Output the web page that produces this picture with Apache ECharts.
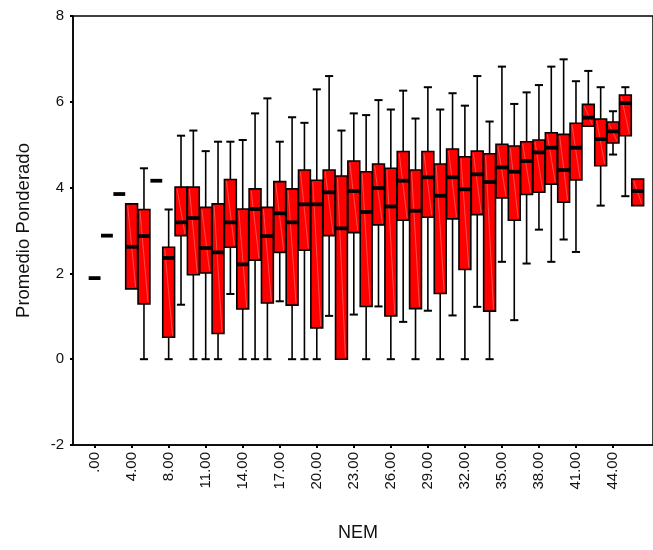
<!DOCTYPE html>
<html>
<head>
<meta charset="utf-8">
<script src="https://cdn.jsdelivr.net/npm/echarts@6/dist/echarts.min.js"></script>
<style>
  html, body { margin: 0; padding: 0; background: #fff; }
  #chart { width: 653px; height: 550px; }
</style>
</head>
<body>
<div id="chart"></div>
<script>
// NEM groups (x categories) and the five-number summary of "Promedio Ponderado" per group
const categories = ['.00', '2.00', '3.00', '4.00', '6.00', '7.00', '8.00', '9.00', '10.00', '11.00',
  '12.00', '13.00', '14.00', '15.00', '16.00', '17.00', '18.00', '19.00', '20.00', '21.00',
  '22.00', '23.00', '24.00', '25.00', '26.00', '27.00', '28.00', '29.00', '30.00', '31.00',
  '32.00', '33.00', '34.00', '35.00', '36.00', '37.00', '38.00', '39.00', '40.00', '41.00',
  '42.00', '43.00', '44.00', '45.00', '46.00'];

const lowerWhisker = [1.89, 2.88, 3.85, 1.64, 0, 4.16, 0, 1.27, 0, 0,
  0, 1.52, 0, 0, 0, 1.35, 0, 0, 0, 1.01,
  0, 1.04, 0, 1.23, 0, 0.87, 0, 1.13, 0, 1.02,
  0, 1.22, 0, 2.27, 0.91, 2.23, 3.02, 2.27, 2.79, 2.50,
  5.43, 3.58, 4.77, 3.80, 3.58];

const quartile1 = [1.89, 2.88, 3.85, 1.64, 1.29, 4.16, 0.51, 2.88, 1.97, 2.01,
  0.60, 2.61, 1.17, 2.31, 1.31, 2.49, 1.26, 2.54, 0.73, 2.88,
  0, 2.95, 1.23, 3.13, 1.01, 3.24, 1.18, 3.31, 1.53, 3.27,
  2.09, 3.37, 1.12, 3.76, 3.24, 3.84, 3.89, 4.08, 3.66, 4.18,
  5.43, 4.51, 5.04, 5.21, 3.58];

const medians = [1.89, 2.88, 3.85, 2.62, 2.87, 4.16, 2.36, 3.19, 3.29, 2.59,
  2.49, 3.19, 2.21, 3.50, 2.87, 3.40, 3.19, 3.61, 3.61, 3.89,
  3.05, 3.92, 3.43, 3.99, 3.56, 4.16, 3.46, 4.24, 3.81, 4.24,
  3.96, 4.31, 4.13, 4.47, 4.37, 4.62, 4.82, 4.93, 4.41, 4.93,
  5.63, 5.13, 5.31, 5.97, 3.92];

const quartile3 = [1.89, 2.88, 3.85, 3.62, 3.49, 4.16, 2.61, 4.01, 4.01, 3.54,
  3.62, 4.19, 3.50, 3.97, 3.54, 4.14, 3.97, 4.41, 4.17, 4.41,
  4.27, 4.62, 4.37, 4.55, 4.45, 4.84, 4.41, 4.84, 4.55, 4.90,
  4.72, 4.85, 4.79, 5.01, 4.97, 5.07, 5.11, 5.28, 5.24, 5.50,
  5.94, 5.60, 5.53, 6.16, 4.20];

const upperWhisker = [1.89, 2.88, 3.85, 3.62, 4.45, 4.16, 3.49, 5.21, 5.33, 4.85,
  5.07, 5.07, 5.11, 5.73, 6.08, 5.07, 5.64, 5.51, 6.29, 6.60,
  5.33, 5.73, 5.69, 6.04, 5.82, 6.26, 5.61, 6.34, 5.82, 6.20,
  5.91, 6.60, 5.54, 6.82, 5.95, 6.22, 6.39, 6.82, 6.99, 6.48,
  6.72, 6.34, 5.78, 6.34, 4.20];

// every third group carries a tick label
const labelledIndices = [0, 3, 6, 9, 12, 15, 18, 21, 24, 27, 30, 33, 36, 39, 42];

const yTicks = { min: -2, max: 8, interval: 2 };

const boxData = categories.map((c, i) =>
  [i, lowerWhisker[i], quartile1[i], medians[i], quartile3[i], upperWhisker[i]]);

const FONT = '"Liberation Sans", Arial, sans-serif';

function renderBox(params, api) {
  const i = api.value(0);
  const band = api.size([1, 0])[0];
  const half = band * 0.48;
  const capHalf = band * 0.33;
  const pLow = api.coord([i, api.value(1)]);
  const pQ1 = api.coord([i, api.value(2)]);
  const pMed = api.coord([i, api.value(3)]);
  const pQ3 = api.coord([i, api.value(4)]);
  const pHigh = api.coord([i, api.value(5)]);
  const x = pMed[0];
  const children = [];
  const lineStyle = { stroke: '#000', lineWidth: 1.6 };

  if (pHigh[1] < pQ3[1] - 0.5) {
    children.push({ type: 'line', shape: { x1: x, y1: pQ3[1], x2: x, y2: pHigh[1] }, style: lineStyle });
    children.push({ type: 'line', shape: { x1: x - capHalf, y1: pHigh[1], x2: x + capHalf, y2: pHigh[1] }, style: { stroke: '#000', lineWidth: 2 } });
  }
  if (pLow[1] > pQ1[1] + 0.5) {
    children.push({ type: 'line', shape: { x1: x, y1: pQ1[1], x2: x, y2: pLow[1] }, style: lineStyle });
    children.push({ type: 'line', shape: { x1: x - capHalf, y1: pLow[1], x2: x + capHalf, y2: pLow[1] }, style: { stroke: '#000', lineWidth: 2 } });
  }
  const h = pQ1[1] - pQ3[1];
  if (h > 0.5) {
    children.push({
      type: 'rect',
      shape: { x: x - half, y: pQ3[1], width: half * 2, height: h },
      style: { fill: '#ff0000', stroke: '#000', lineWidth: 1.6 }
    });
    // light diagonal stroke across the fill
    children.push({
      type: 'line',
      shape: { x1: x - half + 2, y1: pQ3[1] + 2, x2: x + half - 2, y2: pQ1[1] - 2 },
      style: { stroke: 'rgba(255,170,170,0.55)', lineWidth: 0.8 }
    });
  }
  children.push({
    type: 'line',
    shape: { x1: x - half, y1: pMed[1], x2: x + half, y2: pMed[1] },
    style: { stroke: '#000', lineWidth: 3.8 }
  });
  return { type: 'group', children: children };
}

const chart = echarts.init(document.getElementById('chart'), null, { renderer: 'canvas' });

chart.setOption({
  animation: false,
  backgroundColor: '#fff',
  grid: {
    left: 73, right: -3, top: 16, bottom: 105,
    show: true, borderColor: '#000', borderWidth: 1.5, backgroundColor: 'transparent'
  },
  xAxis: {
    type: 'value',
    min: -1.75,
    max: 45.24,
    name: 'NEM',
    nameLocation: 'middle',
    nameGap: 79,
    nameTextStyle: { fontFamily: FONT, fontSize: 18, color: '#111', padding: [0, 10, 0, 0] },
    axisLine: { show: true, onZero: false, lineStyle: { color: '#000', width: 1.5 } },
    axisTick: { show: true, customValues: labelledIndices, length: 3, lineStyle: { color: '#000', width: 2 } },
    axisLabel: {
      customValues: labelledIndices,
      rotate: 90,
      margin: 7,
      fontFamily: FONT,
      fontSize: 15,
      color: '#111',
      formatter: v => categories[Math.round(v)] || ''
    },
    splitLine: { show: false }
  },
  yAxis: {
    type: 'value',
    min: yTicks.min,
    max: yTicks.max,
    interval: yTicks.interval,
    name: 'Promedio Ponderado',
    nameLocation: 'middle',
    nameGap: 40,
    nameTextStyle: { fontFamily: FONT, fontSize: 18.5, color: '#111' },
    axisLine: { show: true, onZero: false, lineStyle: { color: '#000', width: 1.5 } },
    axisTick: { show: true, length: 3, lineStyle: { color: '#000', width: 2 } },
    axisLabel: { margin: 9, fontFamily: FONT, fontSize: 15, color: '#111' },
    splitLine: { show: false }
  },
  series: [{
    type: 'custom',
    renderItem: renderBox,
    encode: { x: 0, y: [1, 2, 3, 4, 5] },
    data: boxData,
    clip: false
  }]
});
</script>
</body>
</html>
